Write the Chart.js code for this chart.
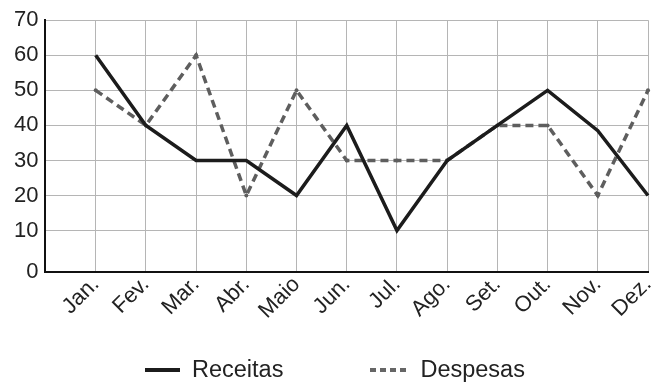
<!DOCTYPE html>
<html>
<head>
<meta charset="utf-8">
<script src="https://cdn.jsdelivr.net/npm/chart.js@4/dist/chart.umd.min.js"></script>
<style>
  html, body { margin: 0; padding: 0; background: #fff; }
  #wrap { position: relative; width: 658px; height: 383px; }
  #chart { position: absolute; left: 0; top: 0; }
  #legenda { position: absolute; left: 145px; top: 356px; display: flex; align-items: center;
             font-family: 'Liberation Sans', Arial, sans-serif; font-size: 23.5px; color: #222; }
  .item { display: flex; align-items: center; }
  .amostra { height: 4px; margin-right: 12px; }
</style>
</head>
<body>
<div id="wrap">
  <canvas id="chart" width="658" height="383"></canvas>
  <div id="legenda"></div>
</div>
<script>
// Receitas x Despesas por mês
var meses = ['Jan.', 'Fev.', 'Mar.', 'Abr.', 'Maio', 'Jun.', 'Jul.', 'Ago.', 'Set.', 'Out.', 'Nov.', 'Dez.'];
var receitas = [60, 40, 30, 30, 20, 40, 10, 30, 40, 50, 38.5, 20];
var despesas = [50, 40, 60, 20, 50, 30, 30, 30, 40, 40, 20, 50];
var ticksY = [10, 20, 30, 40, 50, 60, 70];
var nomes = ['Receitas', 'Despesas'];

(function() {
    var fonte = "'Liberation Sans', Arial, sans-serif";
    var baseY = -1.7; // eixo fica um pouco abaixo do zero

    // primeira categoria vazia = borda esquerda
    var labels = [''].concat(meses);

    var ctx = document.getElementById('chart');
    new Chart(ctx, {
        type: 'line',
        data: {
            labels: labels,
            datasets: [{
                label: nomes[0],
                data: [null].concat(receitas),
                borderColor: '#1c1c1c',
                borderWidth: 3.5,
                pointRadius: 0,
                tension: 0
            }, {
                label: nomes[1],
                data: [null].concat(despesas),
                borderColor: '#5e5e5e',
                backgroundColor: '#5e5e5e',
                borderWidth: 3.5,
                borderDash: [8, 5],
                pointRadius: 2,
                pointBorderWidth: 0,
                tension: 0
            }]
        },
        options: {
            responsive: false,
            animation: false,
            layout: { padding: { left: 7, right: 10, top: 8, bottom: 59 } },
            plugins: { legend: { display: false }, tooltip: { enabled: false } },
            scales: {
                x: {
                    offset: false,
                    afterFit: function(axis) {
                        axis.paddingRight = 0;
                    },
                    grid: { color: '#b5b5b5', lineWidth: 1, drawTicks: false },
                    border: { color: '#111', width: 2 },
                    ticks: {
                        color: '#222',
                        font: { family: fonte, size: 22 },
                        minRotation: 45,
                        maxRotation: 45,
                        padding: 0,
                        autoSkip: false
                    }
                },
                y: {
                    min: baseY,
                    max: 70,
                    afterBuildTicks: function(axis) {
                        var t = [{ value: baseY }];
                        for (var i = 0; i < ticksY.length; i++) t.push({ value: ticksY[i] });
                        axis.ticks = t;
                    },
                    grid: { color: '#b5b5b5', lineWidth: 1, drawTicks: false },
                    border: { color: '#111', width: 2 },
                    ticks: {
                        color: '#222',
                        font: { family: fonte, size: 22 },
                        padding: 7,
                        callback: function(value) {
                            return value < 0 ? '0' : value;
                        }
                    }
                }
            }
        }
    });

    // legenda em HTML
    var leg = document.getElementById('legenda');
    var estilos = [
        { w: 35, bg: '#1c1c1c', gap: 87 },
        { w: 38, bg: 'repeating-linear-gradient(to right, #666 0 6px, transparent 6px 10px)', gap: 0 }
    ];
    for (var i = 0; i < nomes.length; i++) {
        var item = document.createElement('div');
        item.className = 'item';
        item.style.marginRight = estilos[i].gap + 'px';
        var am = document.createElement('span');
        am.className = 'amostra';
        am.style.width = estilos[i].w + 'px';
        am.style.background = estilos[i].bg;
        var txt = document.createElement('span');
        txt.textContent = nomes[i];
        item.appendChild(am);
        item.appendChild(txt);
        leg.appendChild(item);
    }
})();
</script>
</body>
</html>
